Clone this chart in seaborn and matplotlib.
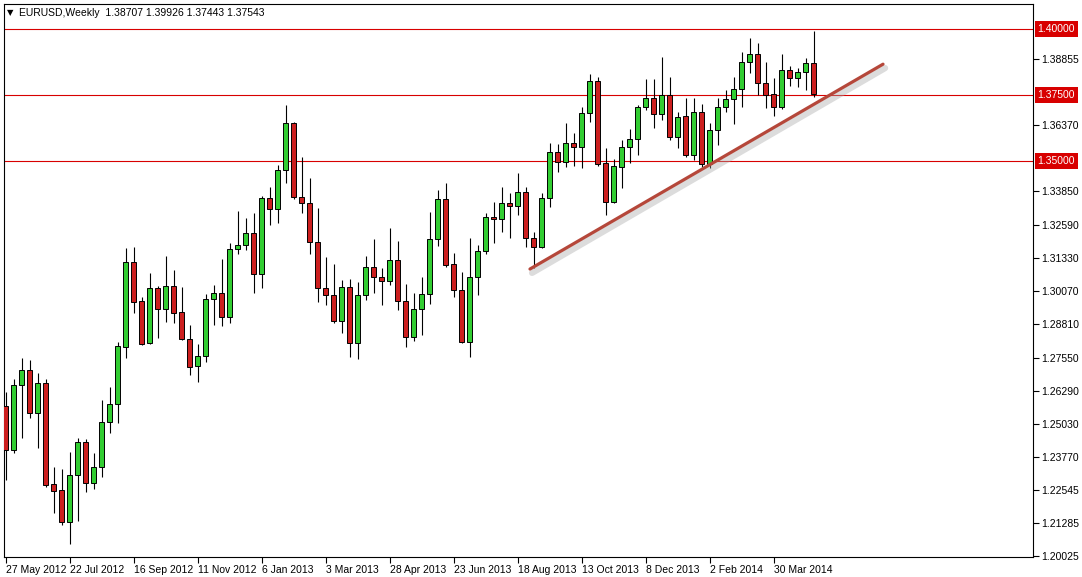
import numpy as np
import matplotlib
matplotlib.use("Agg")
import matplotlib.pyplot as plt
import matplotlib.patheffects as pe
import matplotlib.transforms as mtransforms
import seaborn as sns

# ---------------- data (EURUSD weekly) ----------------
opens = [1.2572, 1.2405, 1.2652, 1.2708, 1.2545, 1.2659, 1.2277, 1.2254, 1.2133, 1.2311,
         1.2436, 1.2280, 1.2341, 1.2511, 1.2580, 1.2796, 1.3117, 1.2970, 1.2811, 1.3019,
         1.2939, 1.3027, 1.2928, 1.2826, 1.2724, 1.2761, 1.2977, 1.3000, 1.2909, 1.3167,
         1.3182, 1.3227, 1.3072, 1.3360, 1.3318, 1.3466, 1.3644, 1.3364, 1.3341, 1.3193,
         1.3019, 1.2993, 1.2894, 1.3023, 1.2811, 1.2993, 1.3099, 1.3061, 1.3046, 1.3125,
         1.2970, 1.2833, 1.2939, 1.2996, 1.3205, 1.3356, 1.3110, 1.3011, 1.2814, 1.3061,
         1.3159, 1.3288, 1.3280, 1.3341, 1.3330, 1.3383, 1.3208, 1.3174, 1.3360, 1.3534,
         1.3496, 1.3568, 1.3553, 1.3682, 1.3803, 1.3492, 1.3345, 1.3477, 1.3553, 1.3583,
         1.3705, 1.3739, 1.3678, 1.3750, 1.3591, 1.3671, 1.3523, 1.3686, 1.3489, 1.3617,
         1.3705, 1.3735, 1.3773, 1.3875, 1.3905, 1.3795, 1.3754, 1.3705, 1.3845, 1.3814,
         1.3837, 1.38707]
highs = [1.2625, 1.2674, 1.2754, 1.2746, 1.2697, 1.2674, 1.2341, 1.2333, 1.2398, 1.2451,
         1.2447, 1.2394, 1.2595, 1.2644, 1.2814, 1.3171, 1.3174, 1.2985, 1.3076, 1.3027,
         1.3140, 1.3087, 1.3023, 1.2879, 1.2807, 1.2996, 1.3030, 1.3129, 1.3189, 1.3311,
         1.3284, 1.3303, 1.3368, 1.3402, 1.3485, 1.3712, 1.3648, 1.3515, 1.3436, 1.3322,
         1.3136, 1.3110, 1.3049, 1.3053, 1.3042, 1.3140, 1.3205, 1.3095, 1.3246, 1.3197,
         1.3034, 1.3000, 1.3061, 1.3307, 1.3390, 1.3417, 1.3152, 1.3080, 1.3208, 1.3182,
         1.3303, 1.3345, 1.3402, 1.3379, 1.3455, 1.3402, 1.3231, 1.3379, 1.3568, 1.3564,
         1.3644, 1.3606, 1.3705, 1.3829, 1.3818, 1.3549, 1.3508, 1.3580, 1.3621, 1.3712,
         1.3811, 1.3811, 1.3894, 1.3818, 1.3686, 1.3739, 1.3739, 1.3716, 1.3644, 1.3739,
         1.3769, 1.3818, 1.3913, 1.3966, 1.3947, 1.3875, 1.3814, 1.3905, 1.3860, 1.3852,
         1.3890, 1.39926]
lows = [1.2292, 1.2394, 1.2451, 1.2527, 1.2413, 1.2265, 1.2167, 1.2121, 1.2049, 1.2136,
        1.2246, 1.2258, 1.2303, 1.2470, 1.2508, 1.2754, 1.2924, 1.2803, 1.2807, 1.2830,
        1.2890, 1.2886, 1.2822, 1.2689, 1.2663, 1.2739, 1.2879, 1.2875, 1.2886, 1.3148,
        1.3163, 1.3000, 1.3019, 1.3258, 1.3265, 1.3417, 1.3356, 1.3303, 1.3148, 1.2966,
        1.2955, 1.2886, 1.2849, 1.2758, 1.2750, 1.2974, 1.3000, 1.2955, 1.3030, 1.2936,
        1.2796, 1.2818, 1.2841, 1.2958, 1.3178, 1.3099, 1.2985, 1.2811, 1.2758, 1.2993,
        1.3148, 1.3189, 1.3231, 1.3208, 1.3296, 1.3174, 1.3095, 1.3171, 1.3326, 1.3458,
        1.3477, 1.3481, 1.3474, 1.3648, 1.3481, 1.3296, 1.3341, 1.3398, 1.3492, 1.3523,
        1.3693, 1.3625, 1.3655, 1.3580, 1.3549, 1.3515, 1.3504, 1.3477, 1.3474, 1.3561,
        1.3686, 1.3640, 1.3705, 1.3833, 1.3750, 1.3701, 1.3671, 1.3697, 1.3784, 1.3780,
        1.3769, 1.37443]
closes = [1.2405, 1.2652, 1.2708, 1.2545, 1.2659, 1.2273, 1.2250, 1.2133, 1.2311, 1.2436,
          1.2280, 1.2341, 1.2511, 1.2580, 1.2799, 1.3117, 1.2966, 1.2807, 1.3019, 1.2939,
          1.3027, 1.2924, 1.2826, 1.2720, 1.2761, 1.2977, 1.3000, 1.2909, 1.3167, 1.3182,
          1.3227, 1.3072, 1.3360, 1.3318, 1.3466, 1.3644, 1.3364, 1.3341, 1.3193, 1.3019,
          1.2993, 1.2894, 1.3023, 1.2811, 1.2993, 1.3099, 1.3061, 1.3046, 1.3125, 1.2970,
          1.2833, 1.2939, 1.2996, 1.3205, 1.3356, 1.3106, 1.3011, 1.2814, 1.3061, 1.3159,
          1.3288, 1.3280, 1.3341, 1.3330, 1.3383, 1.3208, 1.3174, 1.3360, 1.3534, 1.3496,
          1.3568, 1.3553, 1.3682, 1.3803, 1.3489, 1.3345, 1.3481, 1.3553, 1.3583, 1.3705,
          1.3739, 1.3678, 1.3750, 1.3591, 1.3667, 1.3523, 1.3686, 1.3489, 1.3617, 1.3705,
          1.3735, 1.3773, 1.3875, 1.3905, 1.3795, 1.3750, 1.3705, 1.3845, 1.3814, 1.3837,
          1.3871, 1.37543]

date_ticks = [0, 8, 16, 24, 32, 40, 48, 56, 64, 72, 80, 88, 96]
date_labels = ["27 May 2012", "22 Jul 2012", "16 Sep 2012", "11 Nov 2012", "6 Jan 2013",
               "3 Mar 2013", "28 Apr 2013", "23 Jun 2013", "18 Aug 2013", "13 Oct 2013",
               "8 Dec 2013", "2 Feb 2014", "30 Mar 2014"]
price_ticks = [1.38855, 1.36370, 1.33850, 1.32590, 1.31330, 1.30070, 1.28810, 1.27550,
               1.26290, 1.25030, 1.23770, 1.22545, 1.21285, 1.20025]
levels = [1.40000, 1.37500, 1.35000]
trend_x = [65.56, 109.69]
trend_y = [1.3091, 1.3867]
title_text = "EURUSD,Weekly  1.38707 1.39926 1.37443 1.37543"

# ---------------- figure ----------------
sns.set_theme(style="white")
plt.rcParams["font.family"] = ["Liberation Sans", "DejaVu Sans"]

W, H = 1082, 577
fig = plt.figure(figsize=(W / 100, H / 100), dpi=100)
fig.patch.set_facecolor("white")
L, R, T, B = 4, 1033, 4, 557
ax = fig.add_axes([L / W, 1 - B / H, (R - L) / W, (B - T) / H])
ax.set_facecolor("white")

x = np.arange(len(opens))
o = np.array(opens); c = np.array(closes)
up = c >= o
green = "#32cd32"
red = "#cc1f1f"
colors = [green if u else red for u in up]

# horizontal levels
for lv in levels:
    ax.axhline(lv, color="#d80000", lw=0.8, zorder=1)

# wicks
ax.vlines(x, lows, highs, color="black", lw=0.8, zorder=2)
# bodies
body_h = np.maximum(np.abs(c - o), 0.00015)
ax.bar(x, body_h, bottom=np.minimum(o, c), width=0.68, color=colors,
       edgecolor="black", linewidth=0.7, zorder=3)

# trend line with shadow
sns.lineplot(x=trend_x, y=trend_y, ax=ax, color="#b5473a", lw=2.3, zorder=4,
             path_effects=[pe.SimpleLineShadow(offset=(1.5, -2.8), shadow_color="#a8a8a8",
                                               alpha=0.4, linewidth=4.5),
                           pe.Normal()])

ax.set_xlim((L - 5.5) / 8, (R - 5.5) / 8)
ax.set_ylim(1.2000, 1.4095)

# axes styling
for s in ax.spines.values():
    s.set_color("black")
    s.set_linewidth(0.8)

ax.yaxis.tick_right()
ax.set_yticks(price_ticks)
ax.set_yticklabels([f"{v:.5f}" for v in price_ticks])
ax.tick_params(axis="y", direction="out", length=4, width=0.8, pad=2,
               labelsize=7.5, colors="black", right=True, left=False)
ax.set_xticks(date_ticks)
ax.set_xticklabels(date_labels, ha="left")
ax.tick_params(axis="x", direction="out", length=4, width=0.8, pad=2,
               labelsize=7.5, colors="black", bottom=True)
ax.set_xlabel("")
ax.set_ylabel("")

# red level labels on right axis
trans = mtransforms.blended_transform_factory(ax.transAxes, ax.transData)
for lv in levels:
    ax.text(1.0045, lv, f"{lv:.5f}", transform=trans, ha="left", va="center",
            fontsize=7.5, color="white", clip_on=False, zorder=10,
            bbox=dict(boxstyle="square,pad=0.25", facecolor="#d80000", edgecolor="none"))

# title in top-left corner
fig.text(10 / W, 1 - 12.5 / H, "\u25bc", fontsize=6, family="DejaVu Sans",
         ha="center", va="center", color="black")
fig.text(19 / W, 1 - 12.5 / H, title_text, fontsize=7.5, ha="left", va="center",
         color="black")

fig.savefig("out.png", dpi=100, facecolor="white")
